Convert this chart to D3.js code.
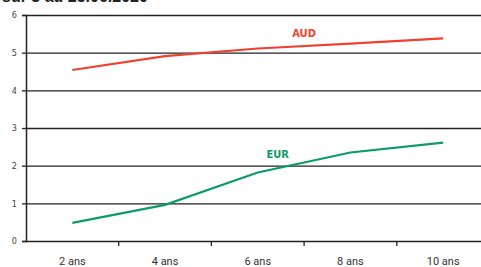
<!DOCTYPE html>
<html>
<head>
<meta charset="utf-8">
<script src="https://cdn.jsdelivr.net/npm/d3@7"></script>
<style>
  body { margin: 0; background: #fff; }
  svg { display: block; }
</style>
</head>
<body>
<div id="chart-area"></div>
<script>
const categories = ["2 ans", "4 ans", "6 ans", "8 ans", "10 ans"]
const audValues = [4.54, 4.91, 5.11, 5.24, 5.38]
const eurValues = [0.48, 0.96, 1.82, 2.35, 2.61]
const yTicks = [0, 1, 2, 3, 4, 5, 6]

const W = 481, H = 267
const MARGIN = {LEFT: 26, TOP: 15}
const PLOT_W = 463.5
const PLOT_H = 226

const svg = d3.select("#chart-area").append("svg")
    .attr("width", W)
    .attr("height", H)

// title, mostly cut off at top (as in the source)
svg.append("text")
    .attr("x", 2)
    .attr("y", 2)
    .attr("font-family", "Liberation Sans, Arial, sans-serif")
    .attr("font-weight", "bold")
    .attr("font-size", "16px")
    .attr("fill", "#222")
    .text("sur 3 au 25.06.2020")

const g = svg.append("g")
    .attr("transform", `translate(${MARGIN.LEFT},${MARGIN.TOP})`)

const x = d3.scaleBand().domain(categories).range([0, PLOT_W])
const y = d3.scaleLinear().domain([0, 6]).range([PLOT_H, 0])

// gridlines
g.selectAll("line.grid").data(yTicks.filter(d => d > 0))
    .enter().append("line")
    .attr("class", "grid")
    .attr("x1", 0).attr("x2", W)
    .attr("y1", d => y(d) + 0.5).attr("y2", d => y(d) + 0.5)
    .attr("stroke", "#222")
    .attr("stroke-width", 1.3)

// y axis
const yAxis = g.append("g")
    .call(d3.axisLeft(y).tickValues(yTicks).tickFormat(d3.format("d")).tickSize(4).tickPadding(5))
yAxis.select(".domain").attr("stroke", "#222").attr("stroke-width", 1.5)
yAxis.selectAll(".tick line").attr("stroke", "#222").attr("stroke-width", 1.3)
yAxis.selectAll("text")
    .attr("font-family", "DejaVu Sans Condensed, DejaVu Sans, sans-serif")
    .attr("font-size", "9px")
    .attr("fill", "#444")

// x axis
const xAxis = g.append("g")
    .attr("transform", `translate(0,${PLOT_H})`)
    .call(d3.axisBottom(x).tickSize(0).tickPadding(16))
xAxis.select(".domain").remove()
g.append("line")
    .attr("x1", 0).attr("x2", W)
    .attr("y1", PLOT_H + 0.5).attr("y2", PLOT_H + 0.5)
    .attr("stroke", "#222").attr("stroke-width", 1.5)
xAxis.selectAll("text")
    .attr("font-family", "Roboto, sans-serif")
    .attr("font-size", "11px")
    .attr("fill", "#333")

// category boundary ticks
g.selectAll("line.xtick").data(categories)
    .enter().append("line")
    .attr("class", "xtick")
    .attr("x1", d => x(d) + x.bandwidth())
    .attr("x2", d => x(d) + x.bandwidth())
    .attr("y1", PLOT_H).attr("y2", PLOT_H + 5)
    .attr("stroke", "#222").attr("stroke-width", 1.3)

const line = d3.line()
    .x((d, i) => x(categories[i]) + x.bandwidth() / 2)
    .y(d => y(d))

g.append("path")
    .datum(audValues)
    .attr("d", line)
    .attr("fill", "none")
    .attr("stroke", "#ee4130")
    .attr("stroke-width", 2.2)

g.append("path")
    .datum(eurValues)
    .attr("d", line)
    .attr("fill", "none")
    .attr("stroke", "#0b9b6b")
    .attr("stroke-width", 2.2)

// series labels
g.append("text")
    .attr("x", x("6 ans") + x.bandwidth())
    .attr("y", y(5.42))
    .attr("text-anchor", "middle")
    .attr("font-family", "DejaVu Sans Condensed, DejaVu Sans, sans-serif")
    .attr("font-weight", "bold")
    .attr("font-size", "11px")
    .attr("fill", "#ee4130")
    .text("AUD")

g.append("text")
    .attr("x", x("6 ans") + x.bandwidth() / 2 + 20)
    .attr("y", y(2.2))
    .attr("text-anchor", "middle")
    .attr("font-family", "DejaVu Sans Condensed, DejaVu Sans, sans-serif")
    .attr("font-weight", "bold")
    .attr("font-size", "11px")
    .attr("fill", "#0b9b6b")
    .text("EUR")
</script>
</body>
</html>
